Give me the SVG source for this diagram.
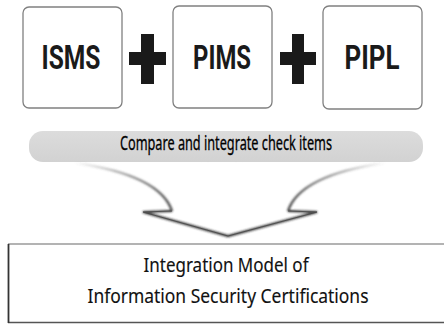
<svg xmlns="http://www.w3.org/2000/svg" width="444" height="324" viewBox="0 0 444 324">
  <style>
    .box { fill: #ffffff; stroke: #808080; stroke-width: 1.3; }
    .lbl { font-family: Roboto, "Liberation Sans", sans-serif; font-weight: bold; font-size: 33px; fill: #1a1a1a; text-anchor: middle; }
    .plus { fill: #1a1a1a; }
    .band-text { font-family: "Noto Sans", "Open Sans", sans-serif; font-size: 20px; fill: #000; stroke: #000; stroke-width: 0.3; text-anchor: middle; }
    .out-text { font-family: "Noto Sans", "Open Sans", sans-serif; font-size: 20.5px; fill: #111; stroke: #111; stroke-width: 0.15; text-anchor: middle; }
  </style>
  <defs>
    <linearGradient id="bandFill" x1="0" y1="0" x2="0" y2="1">
      <stop offset="0" stop-color="#dcdcdc"/>
      <stop offset="1" stop-color="#d2d2d2"/>
    </linearGradient>
    <linearGradient id="arrowEdgeL" x1="0" y1="0" x2="1" y2="0" gradientUnits="objectBoundingBox">
      <stop offset="0" stop-color="#555" stop-opacity="0"/>
      <stop offset="0.5" stop-color="#555" stop-opacity="0.6"/>
      <stop offset="1" stop-color="#333" stop-opacity="1"/>
    </linearGradient>
    <linearGradient id="arrowEdgeR" x1="1" y1="0" x2="0" y2="0" gradientUnits="objectBoundingBox">
      <stop offset="0" stop-color="#555" stop-opacity="0"/>
      <stop offset="0.5" stop-color="#555" stop-opacity="0.6"/>
      <stop offset="1" stop-color="#333" stop-opacity="1"/>
    </linearGradient>
    <filter id="soft" x="-20%" y="-20%" width="140%" height="140%">
      <feGaussianBlur stdDeviation="1.2"/>
    </filter>
    <filter id="haze" x="-50%" y="-100%" width="200%" height="300%">
      <feGaussianBlur stdDeviation="5"/>
    </filter>
  </defs>

  <!-- source standards -->
  <g id="isms">
    <rect class="box" x="23" y="7" width="99" height="101" rx="6"/>
    <text class="lbl" x="71" y="69" textLength="59" lengthAdjust="spacingAndGlyphs">ISMS</text>
  </g>
  <g id="pims">
    <rect class="box" x="173" y="6" width="99" height="102" rx="6"/>
    <text class="lbl" x="222" y="69" textLength="58" lengthAdjust="spacingAndGlyphs">PIMS</text>
  </g>
  <g id="pipl">
    <rect class="box" x="323" y="6" width="99" height="103" rx="6"/>
    <text class="lbl" x="372" y="69" textLength="55" lengthAdjust="spacingAndGlyphs">PIPL</text>
  </g>

  <!-- plus signs -->
  <g id="plus1" class="plus">
    <rect x="129" y="52" width="37" height="13"/>
    <rect x="141" y="34" width="13" height="50"/>
  </g>
  <g id="plus2" class="plus">
    <rect x="280" y="52" width="36" height="13"/>
    <rect x="292" y="34" width="12" height="50"/>
  </g>

  <!-- merge step band (label condensed horizontally) -->
  <g id="compare">
    <rect x="29" y="131" width="394" height="31" rx="14" fill="url(#bandFill)"/>
    <text class="band-text" transform="scale(0.7,1)" x="322.86" y="150" textLength="303" lengthAdjust="spacingAndGlyphs">Compare and integrate check items</text>
  </g>

  <!-- converging arrow -->
  <g id="connectors">
    <ellipse cx="222" cy="180" rx="30" ry="8" fill="#e4e4e4" filter="url(#haze)"/>
    <path d="M75,163 Q160,175 172,211 L143,212 L228,236 L317,212 L288,211 Q300,175 385,163 Z" fill="#ffffff"/>
    <g filter="url(#soft)">
      <path d="M75,163 Q160,175 172,211" fill="none" stroke="url(#arrowEdgeL)" stroke-width="2.2"/>
      <path d="M385,163 Q300,175 288,211" fill="none" stroke="url(#arrowEdgeR)" stroke-width="2.2"/>
      <path d="M172,211 L143,212 L228,236 L317,212 L288,211" fill="none" stroke="#333" stroke-width="2.2" stroke-linejoin="miter"/>
    </g>
    <path d="M172,211 L143,212 L228,236 L317,212 L288,211" fill="none" stroke="#444" stroke-width="0.8"/>
  </g>

  <!-- result -->
  <g id="result">
    <rect x="8" y="244" width="450" height="79" fill="#ffffff" stroke="none"/>
    <line x1="8" y1="244" x2="444" y2="244" stroke="#9a9a9a" stroke-width="1.5"/>
    <line x1="8" y1="322.5" x2="444" y2="322.5" stroke="#555" stroke-width="1.5"/>
    <line x1="8.5" y1="244" x2="8.5" y2="323" stroke="#333" stroke-width="1.8"/>
    <text class="out-text" x="226" y="272" textLength="165" lengthAdjust="spacingAndGlyphs">Integration Model of</text>
    <text class="out-text" x="228" y="303" textLength="281" lengthAdjust="spacingAndGlyphs">Information Security Certifications</text>
  </g>
</svg>
